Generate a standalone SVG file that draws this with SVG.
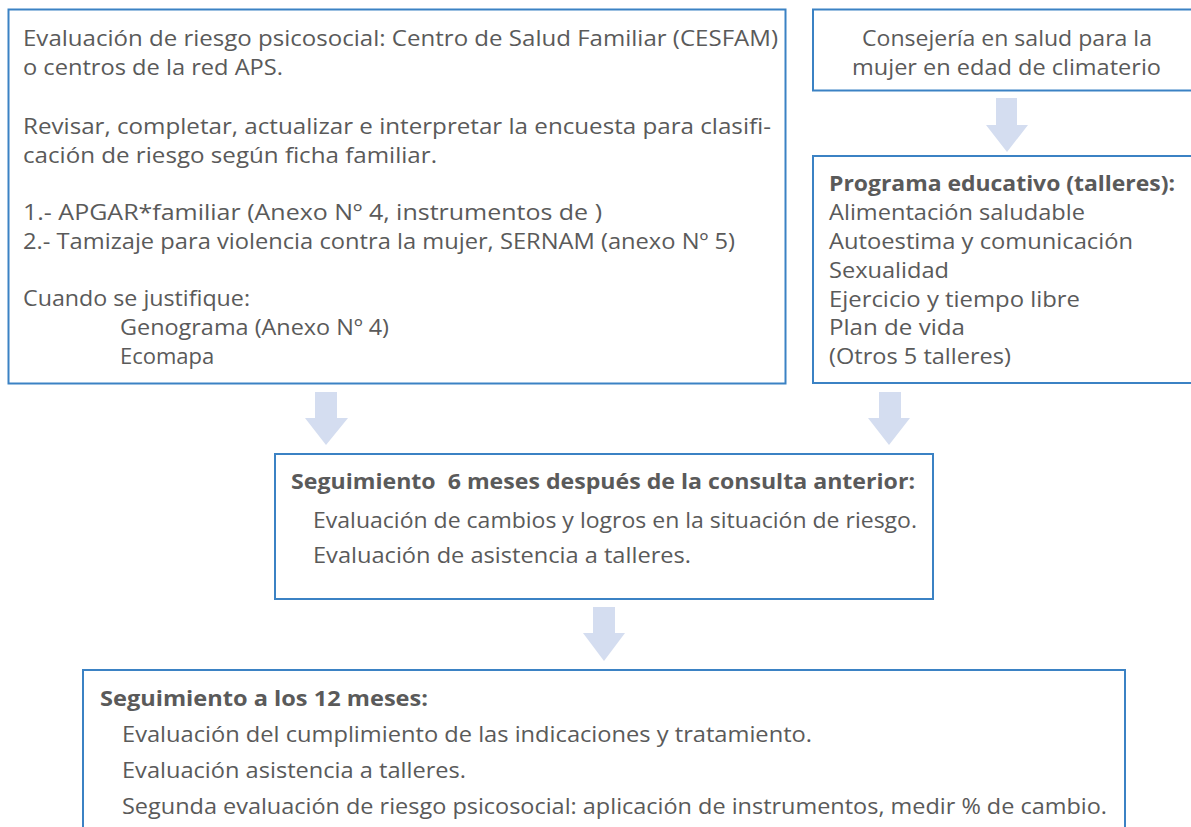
<svg xmlns="http://www.w3.org/2000/svg" width="1191" height="827" viewBox="0 0 1191 827">
<style>
.box{fill:#ffffff;stroke:#3b82c4;stroke-width:2}
.arr{fill:#d4ddf0}
text{font-family:"Open Sans","Noto Sans","DejaVu Sans",sans-serif;font-size:22px;fill:#5a5a5a}
.b{font-weight:bold}
</style>
<rect width="1191" height="827" fill="#ffffff"/>
<g id="connectors">
<polygon class="arr" points="996,98 1017,98 1017,125 1028,125 1007,152 986,125 996,125"/>
<polygon class="arr" points="315,392 337,392 337,418 348,418 326,445 305,418 315,418"/>
<polygon class="arr" points="879,392 901,392 901,418 910,418 889,445 868,418 879,418"/>
<polygon class="arr" points="593,607 615,607 615,633 625,633 604,661 583,633 593,633"/>
</g>
<g id="evaluacion">
<rect class="box" x="8.5" y="9.5" width="777" height="374"/>
<text x="23" y="46" textLength="755" lengthAdjust="spacingAndGlyphs">Evaluación de riesgo psicosocial: Centro de Salud Familiar (CESFAM)</text>
<text x="23" y="75" textLength="260" lengthAdjust="spacingAndGlyphs">o centros de la red APS.</text>
<text x="23" y="134" textLength="748" lengthAdjust="spacingAndGlyphs">Revisar, completar, actualizar e interpretar la encuesta para clasifi-</text>
<text x="23" y="163" textLength="414" lengthAdjust="spacingAndGlyphs">cación de riesgo según ficha familiar.</text>
<text x="23" y="220" textLength="579" lengthAdjust="spacingAndGlyphs">1.- APGAR*familiar (Anexo Nº 4, instrumentos de )</text>
<text x="23" y="249" textLength="712" lengthAdjust="spacingAndGlyphs">2.- Tamizaje para violencia contra la mujer, SERNAM (anexo Nº 5)</text>
<text x="23" y="306" textLength="227" lengthAdjust="spacingAndGlyphs">Cuando se justifique:</text>
<text x="120" y="335" textLength="269" lengthAdjust="spacingAndGlyphs">Genograma (Anexo Nº 4)</text>
<text x="120" y="364">Ecomapa</text>
</g>
<g id="consejeria">
<rect class="box" x="813" y="9.5" width="400" height="81"/>
<text x="862" y="46" textLength="290" lengthAdjust="spacingAndGlyphs">Consejería en salud para la</text>
<text x="852" y="75" textLength="309" lengthAdjust="spacingAndGlyphs">mujer en edad de climaterio</text>
</g>
<g id="programa">
<rect class="box" x="813" y="156" width="400" height="227"/>
<text class="b" x="829" y="191" textLength="346" lengthAdjust="spacingAndGlyphs">Programa educativo (talleres):</text>
<text x="829" y="220" textLength="256" lengthAdjust="spacingAndGlyphs">Alimentación saludable</text>
<text x="829" y="249" textLength="304" lengthAdjust="spacingAndGlyphs">Autoestima y comunicación</text>
<text x="829" y="278" textLength="120" lengthAdjust="spacingAndGlyphs">Sexualidad</text>
<text x="829" y="307" textLength="251" lengthAdjust="spacingAndGlyphs">Ejercicio y tiempo libre</text>
<text x="829" y="335" textLength="136" lengthAdjust="spacingAndGlyphs">Plan de vida</text>
<text x="829" y="364" textLength="182" lengthAdjust="spacingAndGlyphs">(Otros 5 talleres)</text>
</g>
<g id="seguimiento6">
<rect class="box" x="275" y="454" width="658" height="145"/>
<text class="b" x="291" y="489" textLength="624" lengthAdjust="spacingAndGlyphs" xml:space="preserve">Seguimiento  6 meses después de la consulta anterior:</text>
<text x="313" y="528" textLength="604" lengthAdjust="spacingAndGlyphs">Evaluación de cambios y logros en la situación de riesgo.</text>
<text x="313" y="563" textLength="378" lengthAdjust="spacingAndGlyphs">Evaluación de asistencia a talleres.</text>
</g>
<g id="seguimiento12">
<rect class="box" x="83" y="670" width="1042" height="200"/>
<text class="b" x="100" y="706" textLength="328" lengthAdjust="spacingAndGlyphs">Seguimiento a los 12 meses:</text>
<text x="122" y="742" textLength="690" lengthAdjust="spacingAndGlyphs">Evaluación del cumplimiento de las indicaciones y tratamiento.</text>
<text x="122" y="778" textLength="344" lengthAdjust="spacingAndGlyphs">Evaluación asistencia a talleres.</text>
<text x="122" y="814" textLength="985" lengthAdjust="spacingAndGlyphs">Segunda evaluación de riesgo psicosocial: aplicación de instrumentos, medir % de cambio.</text>
</g>
</svg>
